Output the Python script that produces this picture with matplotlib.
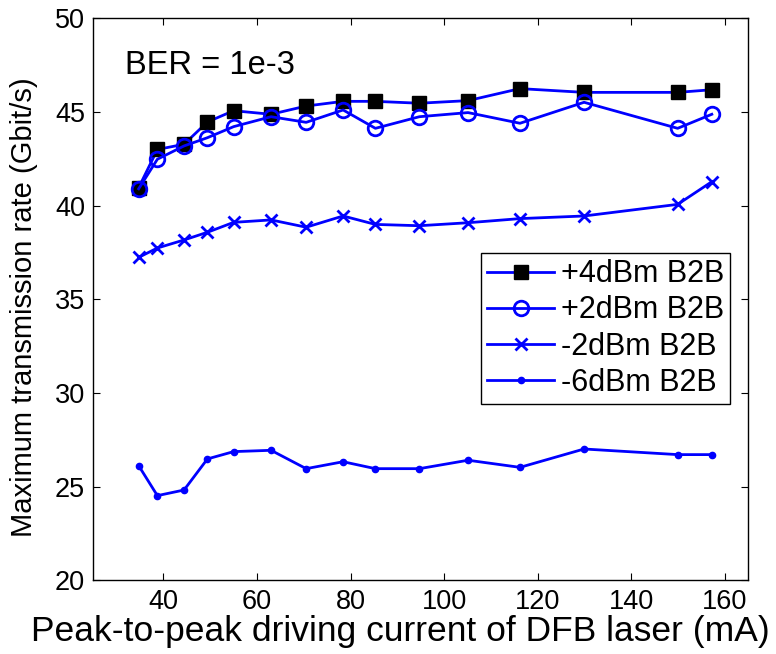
import matplotlib
matplotlib.use("Agg")
import matplotlib.pyplot as plt

plt.rcParams['font.family'] = ['Liberation Sans', 'DejaVu Sans']

# driving current (mA)
current = [34.7, 38.7, 44.4, 49.4, 55.0, 63.0, 70.5, 78.4, 85.3, 94.7,
           105.1, 116.2, 129.9, 149.9, 157.2]

p4dbm = [40.96, 43.0, 43.28, 44.47, 45.07, 44.88, 45.32, 45.57, 45.57, 45.47,
         45.61, 46.25, 46.05, 46.05, 46.19]
p2dbm = [40.9, 42.48, 43.19, 43.63, 44.22, 44.75, 44.45, 45.11, 44.13, 44.75,
         44.97, 44.40, 45.52, 44.13, 44.88]
m2dbm = [37.24, 37.74, 38.17, 38.58, 39.11, 39.24, 38.85, 39.45, 39.0, 38.93,
         39.09, 39.31, 39.45, 40.07, 41.28]
m6dbm = [26.12, 24.52, 24.82, 26.48, 26.87, 26.94, 25.96, 26.33, 25.96, 25.96,
         26.41, 26.03, 27.01, 26.71, 26.71]

labels = ['+4dBm B2B', '+2dBm B2B', '-2dBm B2B', '-6dBm B2B']

fig = plt.figure(figsize=(7.76, 6.54), dpi=100)
ax = fig.add_axes([0.1202, 0.1127, 0.8441, 0.8592])

lw = 2.0
ax.plot(current, p4dbm, color='b', marker='s', lw=lw, ms=10,
        mfc='k', mec='k', label=labels[0])
ax.plot(current, p2dbm, color='b', marker='o', lw=lw, ms=10.5,
        mfc='none', mec='b', mew=2.0, label=labels[1])
ax.plot(current, m2dbm, color='b', marker='x', lw=lw, ms=9,
        mew=2.0, label=labels[2])
ax.plot(current, m6dbm, color='b', marker='.', lw=lw, ms=9, label=labels[3])

ax.set_xlim(25, 165)
ax.set_ylim(20, 50)
ax.set_xticks([40, 60, 80, 100, 120, 140, 160])
ax.set_yticks([20, 25, 30, 35, 40, 45, 50])
ax.tick_params(direction='in', length=5, width=0.8, labelsize=19.5,
               top=True, right=True, pad=6)
for s in ax.spines.values():
    s.set_linewidth(1.0)

ax.set_xlabel('Peak-to-peak driving current of DFB laser (mA)', fontsize=25.5)
ax.xaxis.set_label_coords((400 - 93.3) / 655, -0.062)
ax.set_ylabel('Maximum transmission rate (Gbit/s)', fontsize=21)
ax.yaxis.set_label_coords(-0.085, 0.486)

ax.text(0.048, 0.917, 'BER = 1e-3', transform=ax.transAxes, fontsize=23.5,
        va='center', ha='left')

leg = ax.legend(loc='upper right', bbox_to_anchor=(0.972, 0.582), fontsize=22,
                fancybox=False, edgecolor='k', framealpha=1, borderpad=0.2,
                labelspacing=0.2, handlelength=2.2, handletextpad=0.2,
                borderaxespad=0)
leg.get_frame().set_linewidth(1.0)

fig.savefig('out.png', dpi=100)
